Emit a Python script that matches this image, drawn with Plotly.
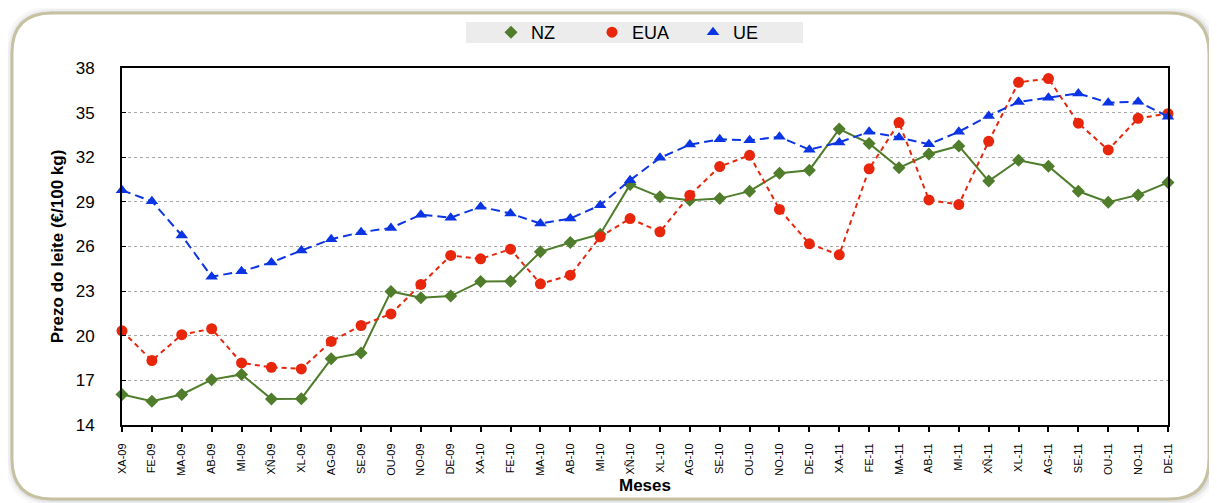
import plotly.graph_objects as go

months = ["XA-09","FE-09","MA-09","AB-09","MI-09","XÑ-09","XL-09","AG-09","SE-09","OU-09","NO-09","DE-09",
          "XA-10","FE-10","MA-10","AB-10","MI-10","XÑ-10","XL-10","AG-10","SE-10","OU-10","NO-10","DE-10",
          "XA-11","FE-11","MA-11","AB-11","MI-11","XÑ-11","XL-11","AG-11","SE-11","OU-11","NO-11","DE-11"]

nz = [16.05, 15.6, 16.05, 17.05, 17.4, 15.75, 15.77, 18.45, 18.84, 22.98, 22.56, 22.67,
      23.65, 23.67, 25.64, 26.27, 26.83, 30.16, 29.34, 29.11, 29.22, 29.72, 30.93, 31.13,
      33.9, 32.93, 31.29, 32.22, 32.76, 30.4, 31.8, 31.4, 29.71, 28.98, 29.47, 30.31]

eua = [20.33, 18.33, 20.07, 20.47, 18.17, 17.88, 17.77, 19.62, 20.69, 21.47, 23.45, 25.4,
       25.17, 25.82, 23.49, 24.07, 26.65, 27.88, 26.99, 29.45, 31.37, 32.13, 28.49, 26.18,
       25.44, 31.22, 34.33, 29.13, 28.82, 33.07, 37.04, 37.29, 34.29, 32.49, 34.62, 34.93]

ue = [29.78, 29.04, 26.74, 23.97, 24.33, 24.93, 25.73, 26.49, 26.96, 27.25, 28.14, 27.94,
      28.67, 28.22, 27.54, 27.88, 28.78, 30.46, 31.96, 32.85, 33.21, 33.14, 33.37, 32.51,
      33.0, 33.71, 33.33, 32.87, 33.71, 34.78, 35.71, 36.0, 36.29, 35.67, 35.73, 34.73]

series_names = ["NZ", "EUA", "UE"]
y_ticks = [14, 17, 20, 23, 26, 29, 32, 35, 38]

# the page body has an 8px default margin; work in window coordinates and shift
OFF = 8
W, H = 1217 - OFF, 503 - OFF
PL, PR, PT, PB = 122, 1168, 68, 425   # plot box in window pixels
ML, MR, MT, MB = PL - OFF, W - (PR - OFF), PT - OFF, H - (PB - OFF)
PW, PH = W - ML - MR, H - MT - MB

def px(x):
    return (x - OFF - ML) / PW

def py(y):
    return (H - MB - (y - OFF)) / PH

def rounded_rect(x0, y0, x1, y1, r):
    pts = [
        f"M {px(x0 + r)} {py(y0)}",
        f"L {px(x1 - r)} {py(y0)}",
        f"Q {px(x1)} {py(y0)} {px(x1)} {py(y0 + r)}",
        f"L {px(x1)} {py(y1 - r)}",
        f"Q {px(x1)} {py(y1)} {px(x1 - r)} {py(y1)}",
        f"L {px(x0 + r)} {py(y1)}",
        f"Q {px(x0)} {py(y1)} {px(x0)} {py(y1 - r)}",
        f"L {px(x0)} {py(y0 + r)}",
        f"Q {px(x0)} {py(y0)} {px(x0 + r)} {py(y0)}",
        "Z",
    ]
    return " ".join(pts)

font_family = "Liberation Sans, Arial, sans-serif"
colors = ["#4f7d2b", "#e8260c", "#0a34e4"]
symbols = ["diamond", "circle", "triangle-up"]
msizes = [10, 11, 11]
dashes = ["solid", "5px,4px", "9px,5px"]

fig = go.Figure()

for name, vals, c, s, ms, d in zip(series_names, [nz, eua, ue], colors, symbols, msizes, dashes):
    fig.add_trace(go.Scatter(
        x=months, y=vals, name=name, mode="lines+markers",
        line=dict(color=c, width=2, dash=d),
        marker=dict(symbol=s, size=ms, color=c),
        cliponaxis=False, showlegend=False, legendgroup=name,
    ))
# legend entries (marker only, as in the original key)
for name, c, s, ms in zip(series_names, colors, symbols, msizes):
    fig.add_trace(go.Scatter(
        x=[None], y=[None], name=name, mode="markers",
        marker=dict(symbol=s, size=ms, color=c),
        showlegend=True, legendgroup=name,
    ))

shapes = []
for w, c in [(16, "rgba(120,120,110,0.05)"), (10, "rgba(120,120,110,0.07)"), (6, "rgba(120,120,110,0.10)")]:
    shapes.append(dict(type="path", xref="paper", yref="paper",
                       path=rounded_rect(13, 14, 1210, 499, 40),
                       line=dict(color=c, width=w), layer="below"))
shapes.append(dict(type="path", xref="paper", yref="paper",
                   path=rounded_rect(12, 13, 1209, 499, 40),
                   fillcolor="white", line=dict(color="#c5c1a2", width=3), layer="below"))
shapes.append(dict(type="rect", xref="paper", yref="paper",
                   x0=px(466), x1=px(803), y0=py(43), y1=py(22),
                   fillcolor="#ececec", line=dict(width=0), layer="below"))

fig.update_layout(
    width=W, height=H,
    margin=dict(l=ML, r=MR, t=MT, b=MB, autoexpand=False),
    paper_bgcolor="white", plot_bgcolor="white",
    font=dict(family=font_family, color="black"),
    shapes=shapes,
    showlegend=True,
    legend=dict(
        orientation="h", xanchor="left", yanchor="middle",
        x=px(491), y=py(32.5),
        bgcolor="rgba(0,0,0,0)", font=dict(size=18, family=font_family),
        entrywidth=56, entrywidthmode="pixels", itemclick=False,
    ),
    xaxis=dict(
        type="category", range=[0, len(months) - 1],
        showline=True, linecolor="black", linewidth=2, mirror=True,
        ticks="outside", ticklen=5, tickcolor="black", tickwidth=1.5,
        tickangle=-90, tickfont=dict(size=11, family=font_family), ticklabelstandoff=7,
        showgrid=False, zeroline=False,
        title=dict(text="<b>Meses</b>", font=dict(size=17, family=font_family), standoff=4),
    ),
    yaxis=dict(
        range=[14, 38], tickvals=y_ticks,
        showline=True, linecolor="black", linewidth=2, mirror=True,
        ticks="inside", ticklen=4, tickcolor="black",
        tickfont=dict(size=17, family=font_family), ticklabelstandoff=22,
        showgrid=True, gridcolor="#a8a8a8", griddash="dot", gridwidth=1,
        zeroline=False,
        title=dict(text="<b>Prezo do leite (€/100 kg)</b>", font=dict(size=17, family=font_family), standoff=8),
    ),
)

fig.write_html("out.html")
